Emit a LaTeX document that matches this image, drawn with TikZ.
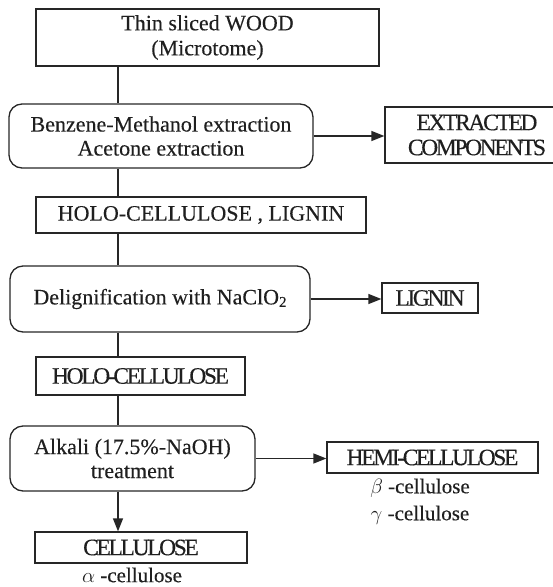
\documentclass[tikz,border=0pt]{standalone}
\usepackage{fontspec}
\setmainfont{Liberation Serif}
\usetikzlibrary{arrows.meta}
\begin{document}
\begin{tikzpicture}[x=1pt,y=-1pt,
  every node/.style={inner sep=0pt, align=center, text=black!88},
  sq/.style={draw=black!85, line width=1.3pt, font=\fontsize{22}{25}\selectfont\addfontfeatures{FakeBold=0.25}},
  rnd/.style={draw=black!85, line width=1.3pt, rounded corners=13pt, font=\fontsize{22}{24}\selectfont\addfontfeatures{FakeBold=0.25}},
  tight/.style={font=\fontsize{23.5}{25}\selectfont\addfontfeatures{LetterSpace=-10,FakeBold=0.3}},
  lbl/.style={font=\fontsize{21}{24}\selectfont\addfontfeatures{FakeBold=0.25}},
  conn/.style={draw=black!85, line width=1.3pt},
  arr/.style={conn, -{Triangle[length=13pt,width=10pt]}}]
\useasboundingbox (0,0) rectangle (553,587);
\clip (0,0) rectangle (553,587);
\coordinate (spine) at (118,0);
% main column
\node[sq, minimum width=343pt, minimum height=57pt] (wood) at (207.5,37.5) {Thin sliced WOOD\\(Microtome)};
\node[rnd, minimum width=304pt, minimum height=64pt] (ext) at (161,136) {Benzene-Methanol extraction\\Acetone extraction};
\node[sq, minimum width=330pt, minimum height=36pt] (holo1) at (201,215) {HOLO-CELLULOSE , LIGNIN};
\node[rnd, minimum width=300pt, minimum height=66pt] (delig) at (160,299) {Delignification with NaClO\raisebox{-2.5pt}{\fontsize{15}{15}\selectfont 2}};
\node[sq, tight, minimum width=209pt, minimum height=38pt] (holo2) at (140.5,376) {HOLO-CELLULOSE};
\node[rnd, minimum width=245pt, minimum height=65pt] (alk) at (132.5,458.5) {Alkali (17.5\%-NaOH)\\treatment};
\node[sq, tight, minimum width=212pt, minimum height=31pt] (cell) at (141,547.5) {CELLULOSE};
\node[lbl] (alpha) at (132,575) {$\alpha$ -cellulose};
% side boxes
\node[sq, tight, minimum width=184pt, minimum height=56pt] (extr) at (477,135) {EXTRACTED\\COMPONENTS};
\node[sq, tight, minimum width=96pt, minimum height=30pt] (lig) at (430,298) {LIGNIN};
\node[sq, tight, minimum width=211pt, minimum height=31pt] (hemi) at (432.5,457.5) {HEMI-CELLULOSE};
\node[lbl] (beta) at (420,488) {$\beta$ -cellulose};
\node[lbl] (gamma) at (420,515) {$\gamma$ -cellulose};
% connectors
\draw[conn] (wood.south -| spine) -- (ext.north -| spine);
\draw[conn] (ext.south -| spine) -- (holo1.north -| spine);
\draw[conn] (holo1.south -| spine) -- (delig.north -| spine);
\draw[conn] (delig.south -| spine) -- (holo2.north -| spine);
\draw[conn] (holo2.south -| spine) -- (alk.north -| spine);
\draw[arr] (alk.south -| spine) -- (cell.north -| spine);
\draw[arr] (ext.east) -- (ext.east -| extr.west);
\draw[arr] (delig.east) -- (delig.east -| lig.west);
\draw[arr] (alk.east) -- (alk.east -| hemi.west);
\end{tikzpicture}
\end{document}
